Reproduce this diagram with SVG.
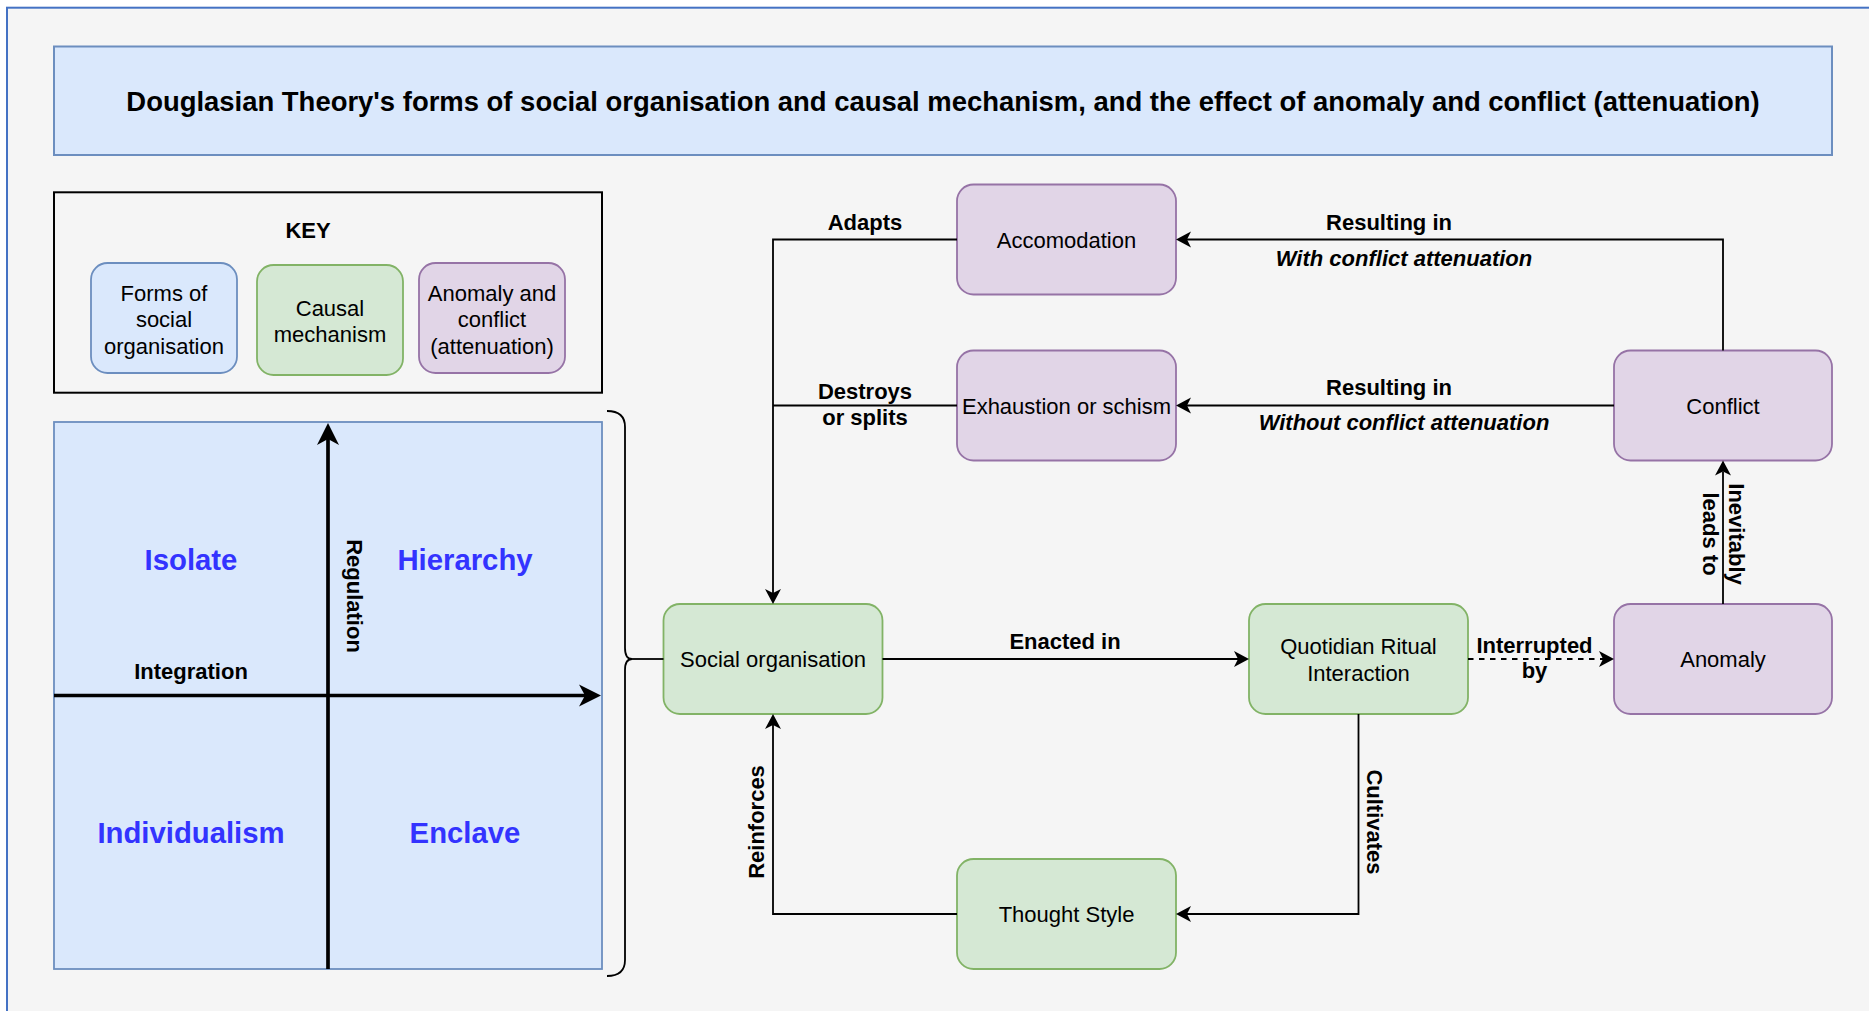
<svg xmlns="http://www.w3.org/2000/svg" width="1869" height="1011" viewBox="0 0 1869 1011">
  <style>
    text { font-family: "Liberation Sans", Arial, Helvetica, sans-serif; fill: #000; }
    .node { font-size: 22px; text-anchor: middle; }
    .lbl { font-size: 22px; font-weight: bold; text-anchor: middle; }
    .lbli { font-size: 22px; font-weight: bold; font-style: italic; text-anchor: middle; }
    .quad { font-size: 29.3px; font-weight: bold; text-anchor: middle; fill: #3333ff; }
    .blue { fill: #dae8fc; stroke: #6c8ebf; stroke-width: 1.8; }
    .green { fill: #d5e8d4; stroke: #82b366; stroke-width: 1.8; }
    .purple { fill: #e1d5e7; stroke: #9673a6; stroke-width: 1.8; }
    .edge { fill: none; stroke: #000; stroke-width: 1.8; }
    .axis { fill: none; stroke: #000; stroke-width: 3.7; }
  </style>
  <defs>
    <marker id="arr" markerUnits="userSpaceOnUse" viewBox="-5 -9 17 18" refX="0" refY="0" markerWidth="17" markerHeight="18" orient="auto">
      <path d="M11,0 L-4,-8 L0,0 L-4,8 Z" fill="#000"/>
    </marker>
    <marker id="arrBig" markerUnits="userSpaceOnUse" viewBox="-7 -12 24 24" refX="0" refY="0" markerWidth="24" markerHeight="24" orient="auto">
      <path d="M16,0 L-6,-11 L0,0 L-6,11 Z" fill="#000"/>
    </marker>
  </defs>

  <rect x="0" y="0" width="1869" height="1011" fill="#ffffff"/>
  <rect id="frame" x="7" y="7.7" width="1900" height="1050" fill="#f5f5f5" stroke="#4472c4" stroke-width="2"/>

  <g id="title">
    <rect x="54" y="46.5" width="1778" height="108.5" fill="#dae8fc" stroke="#6c8ebf" stroke-width="2"/>
    <text x="943" y="111.3" style="font-size:27.45px;font-weight:bold;text-anchor:middle">Douglasian Theory's forms of social organisation and causal mechanism, and the effect of anomaly and conflict (attenuation)</text>
  </g>

  <g id="key">
    <rect x="54" y="192.3" width="548" height="200.4" fill="none" stroke="#000" stroke-width="2"/>
    <text class="lbl" x="308" y="237.5">KEY</text>
    <g id="key-forms">
      <rect class="blue" x="91" y="263" width="146" height="110" rx="16.5"/>
      <text class="node" x="164" y="301">Forms of</text>
      <text class="node" x="164" y="327.4">social</text>
      <text class="node" x="164" y="353.8">organisation</text>
    </g>
    <g id="key-causal">
      <rect class="green" x="257" y="265" width="146" height="110" rx="16.5"/>
      <text class="node" x="330" y="315.8">Causal</text>
      <text class="node" x="330" y="342.2">mechanism</text>
    </g>
    <g id="key-anomaly">
      <rect class="purple" x="419" y="263" width="146" height="110" rx="16.5"/>
      <text class="node" x="492" y="301">Anomaly and</text>
      <text class="node" x="492" y="327.4">conflict</text>
      <text class="node" x="492" y="353.8">(attenuation)</text>
    </g>
  </g>

  <g id="grid-group">
    <rect x="54" y="422" width="548" height="547" fill="#dae8fc" stroke="#6c8ebf" stroke-width="1.8"/>
    <line class="axis" x1="54" y1="695.5" x2="585" y2="695.5" marker-end="url(#arrBig)"/>
    <line class="axis" x1="328" y1="969" x2="328" y2="439" marker-end="url(#arrBig)"/>
    <text class="quad" x="191" y="569.8">Isolate</text>
    <text class="quad" x="465" y="569.8">Hierarchy</text>
    <text class="quad" x="191" y="843">Individualism</text>
    <text class="quad" x="465" y="843">Enclave</text>
    <text class="lbl" x="191" y="678.8">Integration</text>
    <text class="lbl" transform="translate(347,596) rotate(90)" x="0" y="0">Regulation</text>
  </g>

  <g id="brace">
    <path class="edge" d="M607,411 Q625,411 625,427 L625,648 Q625,659 632,659 Q625,659 625,670 L625,960 Q625,976 607,976"/>
  </g>

  <g id="social-organisation">
    <rect class="green" x="663.5" y="604" width="219" height="110" rx="16.5"/>
    <text class="node" x="773" y="667.3">Social organisation</text>
  </g>
  <g id="quotidian">
    <rect class="green" x="1249" y="604" width="219" height="110" rx="16.5"/>
    <text class="node" x="1358.5" y="654.4">Quotidian Ritual</text>
    <text class="node" x="1358.5" y="680.8">Interaction</text>
  </g>
  <g id="anomaly">
    <rect class="purple" x="1614" y="604" width="218" height="110" rx="16.5"/>
    <text class="node" x="1723" y="667.3">Anomaly</text>
  </g>
  <g id="conflict">
    <rect class="purple" x="1614" y="350.5" width="218" height="110" rx="16.5"/>
    <text class="node" x="1723" y="413.8">Conflict</text>
  </g>
  <g id="accomodation">
    <rect class="purple" x="957" y="184.5" width="219" height="110" rx="16.5"/>
    <text class="node" x="1066.5" y="247.8">Accomodation</text>
  </g>
  <g id="exhaustion">
    <rect class="purple" x="957" y="350.5" width="219" height="110" rx="16.5"/>
    <text class="node" x="1066.5" y="413.8">Exhaustion or schism</text>
  </g>
  <g id="thought-style">
    <rect class="green" x="957" y="859" width="219" height="110" rx="16.5"/>
    <text class="node" x="1066.5" y="922.3">Thought Style</text>
  </g>

  <g id="connectors">
    <line class="edge" x1="632" y1="659" x2="663.5" y2="659"/>
    <path class="edge" d="M957,239.5 L773,239.5 L773,593" marker-end="url(#arr)"/>
    <path class="edge" d="M957,405.5 L773,405.5"/>
    <path class="edge" d="M1723,350.5 L1723,239.5 L1187,239.5" marker-end="url(#arr)"/>
    <path class="edge" d="M1614,405.5 L1187,405.5" marker-end="url(#arr)"/>
    <path class="edge" d="M882.5,659 L1238,659" marker-end="url(#arr)"/>
    <path class="edge" d="M1468,659 L1603,659" stroke-dasharray="5.5 5.5" marker-end="url(#arr)"/>
    <path class="edge" d="M1723,604 L1723,471.5" marker-end="url(#arr)"/>
    <path class="edge" d="M1358.5,714 L1358.5,914 L1187,914" marker-end="url(#arr)"/>
    <path class="edge" d="M957,914 L773,914 L773,725" marker-end="url(#arr)"/>

    <text class="lbl" x="865" y="229.5">Adapts</text>
    <text class="lbl" x="865" y="399.3">Destroys</text>
    <text class="lbl" x="865" y="424.8">or splits</text>
    <text class="lbl" x="1389" y="229.8">Resulting in</text>
    <text class="lbli" x="1404" y="266.4">With conflict attenuation</text>
    <text class="lbl" x="1389" y="394.6">Resulting in</text>
    <text class="lbli" x="1404" y="430.4">Without conflict attenuation</text>
    <text class="lbl" x="1065" y="649.3">Enacted in</text>
    <text class="lbl" x="1534.5" y="652.9">Interrupted</text>
    <text class="lbl" x="1534.5" y="678.3">by</text>
    <text class="lbl" transform="translate(1723,534) rotate(90)" x="0" y="-6">Inevitably</text>
    <text class="lbl" transform="translate(1723,534) rotate(90)" x="0" y="20.4">leads to</text>
    <text class="lbl" transform="translate(1366.5,822) rotate(90)" x="0" y="0">Cultivates</text>
    <text class="lbl" transform="translate(763.5,822) rotate(-90)" x="0" y="0">Reinforces</text>
  </g>
</svg>
